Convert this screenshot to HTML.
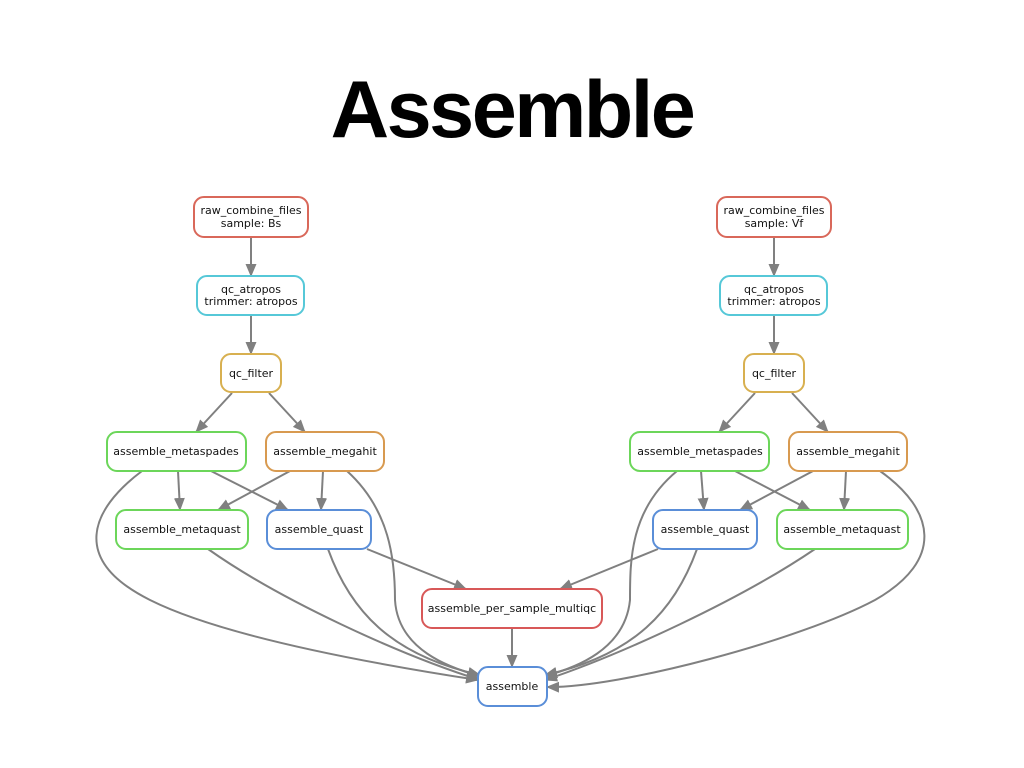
<!DOCTYPE html>
<html><head><meta charset="utf-8"><style>
html,body{margin:0;padding:0;background:#fff;width:1024px;height:768px;overflow:hidden}
svg text{font-family:"DejaVu Sans","Liberation Sans",sans-serif;font-size:11px;fill:#111}
</style></head><body>
<svg width="1024" height="768" xmlns="http://www.w3.org/2000/svg">
<defs><marker id="a" markerWidth="13" markerHeight="12" refX="12" refY="6" orient="auto" markerUnits="userSpaceOnUse"><path d="M0,0.5 L13,6 L0,11.5 z" fill="#808080"/></marker></defs>
<text x="512" y="137" text-anchor="middle" style="font-family:'Liberation Sans',sans-serif;font-size:81px;font-weight:bold;fill:#000;letter-spacing:-2.5px">Assemble</text>
<g fill="none" stroke="#808080" stroke-width="2" marker-end="url(#a)">
<path d="M251,237 L251,276"/><path d="M251,315 L251,354"/>
<path d="M232,393 L196,432"/><path d="M269,393 L305,432"/>
<path d="M178,471 L180,510"/><path d="M211,471 L288,510"/>
<path d="M290,471 L218,510"/><path d="M323,471 L321,510"/>
<path d="M142,471 C90,510 70,560 150,600 C230,640 400,668 478,680"/>
<path d="M347,471 C390,510 395,560 395,600 C398,650 450,668 480,676"/>
<path d="M208,549 C280,600 400,655 480,680"/>
<path d="M328,549 C350,610 390,655 480,675"/>
<path d="M367,549 L466,589"/>
<path d="M512,628 L512,667"/>
<path d="M774,237 L774,276"/><path d="M774,315 L774,354"/>
<path d="M755,393 L719,432"/><path d="M792,393 L828,432"/>
<path d="M701,471 L704,510"/><path d="M735,471 L810,510"/>
<path d="M813,471 L740,510"/><path d="M846,471 L844,510"/>
<path d="M677,471 C630,510 630,560 630,600 C625,650 575,668 545,676"/>
<path d="M880,471 C935,510 945,560 875,600 C800,640 620,688 547,687"/>
<path d="M815,549 C740,600 620,655 545,680"/>
<path d="M697,549 C675,610 635,655 545,675"/>
<path d="M658,549 L560,589"/>
</g>
<g fill="#fff" stroke-width="2">
<rect x="194" y="197" width="114" height="40" rx="10" stroke="#d9685a"/>
<rect x="197" y="276" width="107" height="39" rx="10" stroke="#56c8d8"/>
<rect x="221" y="354" width="60" height="38" rx="10" stroke="#d8b050"/>
<rect x="107" y="432" width="139" height="39" rx="10" stroke="#6cd65a"/>
<rect x="266" y="432" width="118" height="39" rx="10" stroke="#d89a50"/>
<rect x="116" y="510" width="132" height="39" rx="10" stroke="#6cd65a"/>
<rect x="267" y="510" width="104" height="39" rx="10" stroke="#5a8ed8"/>
<rect x="422" y="589" width="180" height="39" rx="10" stroke="#d85858"/>
<rect x="478" y="667" width="69" height="39" rx="10" stroke="#5a8ed8"/>
<rect x="717" y="197" width="114" height="40" rx="10" stroke="#d9685a"/>
<rect x="720" y="276" width="107" height="39" rx="10" stroke="#56c8d8"/>
<rect x="744" y="354" width="60" height="38" rx="10" stroke="#d8b050"/>
<rect x="630" y="432" width="139" height="39" rx="10" stroke="#6cd65a"/>
<rect x="789" y="432" width="118" height="39" rx="10" stroke="#d89a50"/>
<rect x="653" y="510" width="104" height="39" rx="10" stroke="#5a8ed8"/>
<rect x="777" y="510" width="131" height="39" rx="10" stroke="#6cd65a"/>
</g>
<g text-anchor="middle">
<text x="251" y="214">raw_combine_files</text><text x="251" y="227">sample: Bs</text>
<text x="251" y="293">qc_atropos</text><text x="251" y="305">trimmer: atropos</text>
<text x="251" y="377">qc_filter</text>
<text x="176" y="455">assemble_metaspades</text>
<text x="325" y="455">assemble_megahit</text>
<text x="182" y="533">assemble_metaquast</text>
<text x="319" y="533">assemble_quast</text>
<text x="512" y="612">assemble_per_sample_multiqc</text>
<text x="512" y="690">assemble</text>
<text x="774" y="214">raw_combine_files</text><text x="774" y="227">sample: Vf</text>
<text x="774" y="293">qc_atropos</text><text x="774" y="305">trimmer: atropos</text>
<text x="774" y="377">qc_filter</text>
<text x="700" y="455">assemble_metaspades</text>
<text x="848" y="455">assemble_megahit</text>
<text x="705" y="533">assemble_quast</text>
<text x="842" y="533">assemble_metaquast</text>
</g>
</svg>
</body></html>
